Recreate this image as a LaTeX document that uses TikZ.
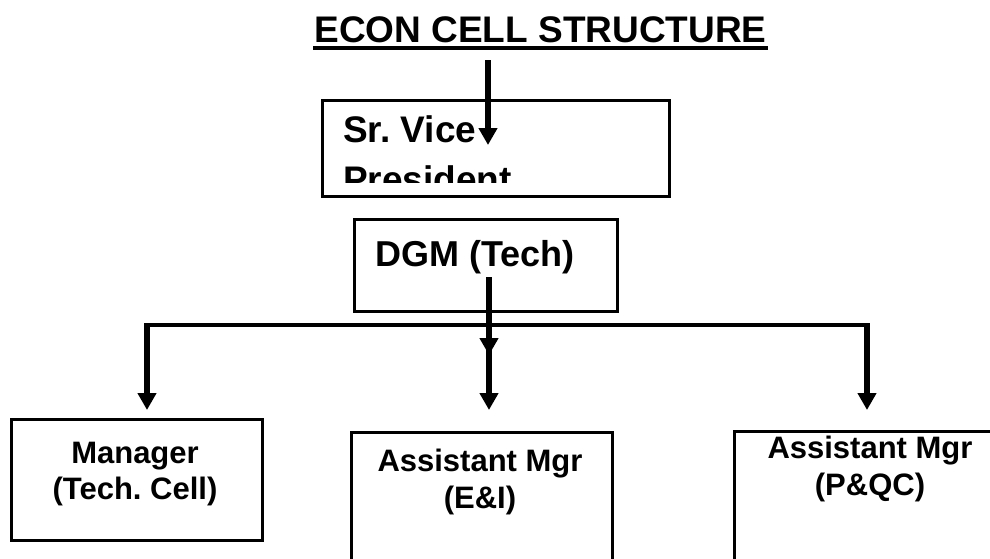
\documentclass[tikz,border=0pt]{standalone}
\usepackage{fontspec}
\setmainfont{Liberation Sans}
\usetikzlibrary{arrows.meta}
\frenchspacing
\begin{document}
\begin{tikzpicture}[x=1pt,y=-1pt,
  box/.style={draw,line width=3pt,inner sep=0pt,anchor=north west},
  lbl/.style={inner sep=0pt,anchor=base,font=\fontsize{31}{36}\selectfont\bfseries},
  big/.style={inner sep=0pt,font=\fontsize{37}{44}\selectfont\bfseries},
  arr/.style={line width=5.5pt,-{Triangle[width=18pt,length=17pt]}},
  bus/.style={line width=4pt}]
\clip (0,0) rectangle (990,558);
\fill[white] (0,0) rectangle (990,558);
% title
\node[big,anchor=base] (title) at (540.5,42) {ECON CELL STRUCTURE};
\draw[line width=4pt] (313,47.5) -- (768,47.5);
% boxes
\node[box,minimum width=347pt,minimum height=96pt] (svp) at (321,99) {};
\node[box,minimum width=263pt,minimum height=92pt] (dgm) at (353,218) {};
\node[box,minimum width=251pt,minimum height=121pt] (mgr) at (10,418) {};
\node[box,minimum width=261pt,minimum height=170pt] (ei) at (350,431) {};
\node[box,minimum width=300pt,minimum height=170pt] (pqc) at (733,430) {};
% box texts
\node[big,anchor=base west] (svpa) at (343,142) {Sr. Vice};
\begin{scope}
\clip (321,99) rectangle (668,182);
\node[big,anchor=base west] (svpb) at (343,192) {President};
\end{scope}
\node[big,anchor=base,font=\fontsize{36}{44}\selectfont\bfseries] (dgmt) at (475,266) {DGM (Tech)};
\node[lbl] (mgra) at (135,463) {Manager};
\node[lbl] (mgrb) at (135,499) {(Tech. Cell)};
\node[lbl] (eia) at (480,471) {Assistant Mgr};
\node[lbl] (eib) at (480,508) {(E\&I)};
\node[lbl] (pqca) at (870,458) {Assistant Mgr};
\node[lbl] (pqcb) at (870,495) {(P\&QC)};
% connectors
\coordinate (t0) at (488,60);
\coordinate (t1) at (488,145);
\draw[arr] (t0) -- (t1);
\coordinate (bl) at (144,325);
\coordinate (br) at (870,325);
\draw[bus] (bl) -- (br);
\coordinate (l0) at (147,323);
\coordinate (l1) at (147,410);
\coordinate (r0) at (867,323);
\coordinate (r1) at (867,410);
\coordinate (m0) at (489,277);
\coordinate (m1) at (489,355);
\coordinate (m2) at (489,323);
\coordinate (m3) at (489,410);
\draw[arr] (l0) -- (l1);
\draw[arr] (r0) -- (r1);
\draw[arr] (m0) -- (m1);
\draw[arr] (m2) -- (m3);
\end{tikzpicture}
\end{document}
